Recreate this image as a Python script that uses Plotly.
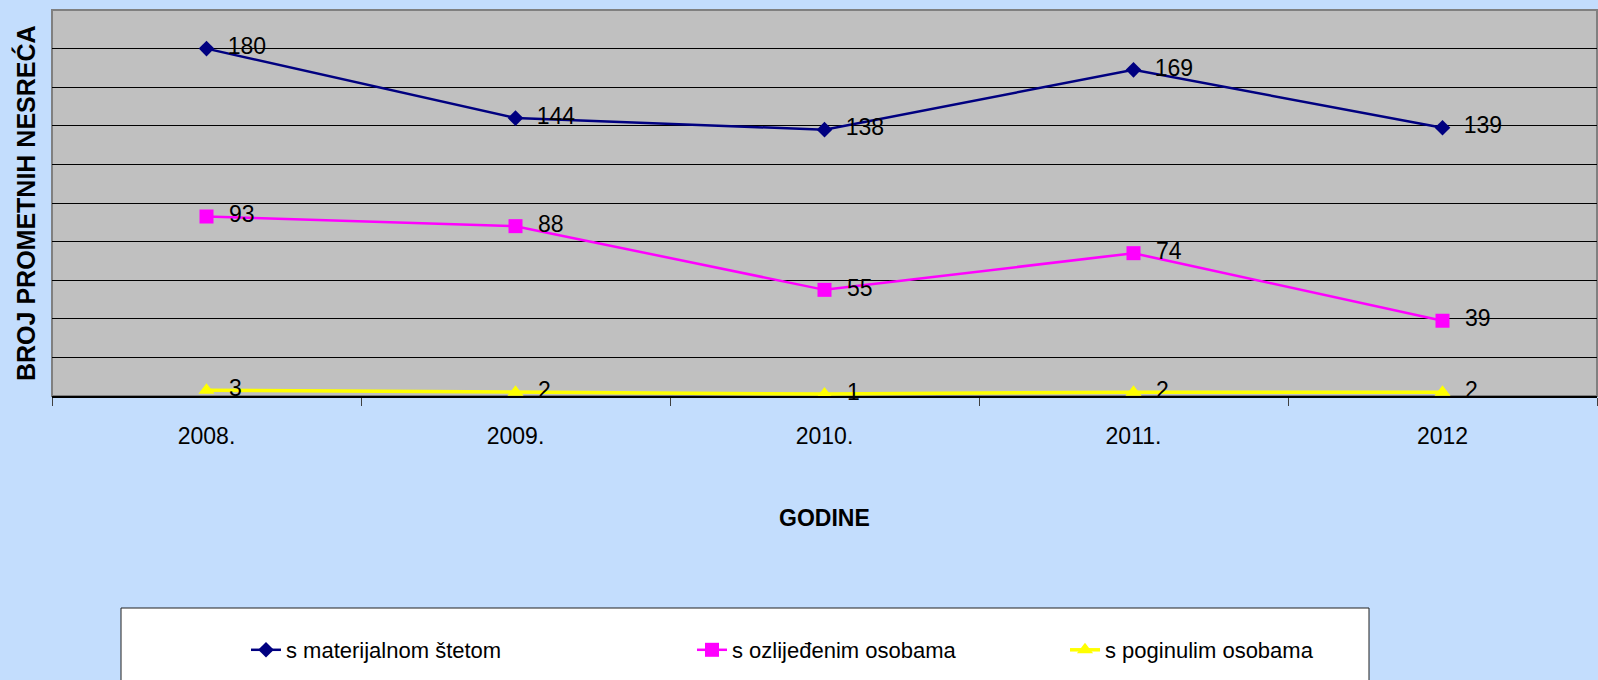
import plotly.graph_objects as go

years = ["2008.", "2009.", "2010.", "2011.", "2012"]
materijalna = [180, 144, 138, 169, 139]
ozlijedeni = [93, 88, 55, 74, 39]
poginuli = [3, 2, 1, 2, 2]
series_names = ["s materijalnom štetom", "s ozlijeđenim osobama", "s poginulim osobama"]

W, H = 1598, 680
L, R, T, B = 52, 1, 10, 284
pw = W - L - R
ph = H - T - B

def px_x(x):
    return (x - L) / pw

def px_y(y):
    return (H - B - y) / ph

FONT = "Liberation Sans, Arial, sans-serif"
lbl = "\u00a0\u00a0%{y}"

fig = go.Figure()
fig.add_trace(go.Scatter(
    x=years, y=materijalna, name=series_names[0], mode="lines+markers+text",
    line=dict(color="#000080", width=2.5),
    marker=dict(symbol="diamond", size=12, color="#000080"),
    texttemplate=lbl, textposition="middle right",
    textfont=dict(size=23, color="#000000", family=FONT),
    legend="legend", cliponaxis=False))
fig.add_trace(go.Scatter(
    x=years, y=ozlijedeni, name=series_names[1], mode="lines+markers+text",
    line=dict(color="#FF00FF", width=2.5),
    marker=dict(symbol="square", size=14, color="#FF00FF"),
    texttemplate=lbl, textposition="middle right",
    textfont=dict(size=23, color="#000000", family=FONT),
    legend="legend2", cliponaxis=False))
fig.add_trace(go.Scatter(
    x=years, y=poginuli, name=series_names[2], mode="lines+markers+text",
    line=dict(color="#FFFF00", width=3.5),
    marker=dict(symbol="triangle-up", size=14, color="#FFFF00"),
    texttemplate=lbl, textposition="middle right",
    textfont=dict(size=23, color="#000000", family=FONT),
    legend="legend3", cliponaxis=False))

leg_common = dict(orientation="h", yanchor="middle", xanchor="left",
                  bgcolor="rgba(0,0,0,0)", borderwidth=0,
                  font=dict(size=22, family=FONT, color="#000000"))
fig.update_layout(
    legend=dict(x=px_x(246), y=px_y(650), **leg_common),
    legend2=dict(x=px_x(692), y=px_y(650), **leg_common),
    legend3=dict(x=px_x(1065), y=px_y(650), **leg_common),
)

fig.update_layout(
    width=W, height=H,
    margin=dict(l=L, r=R, t=T, b=B),
    paper_bgcolor="#C3DDFD",
    plot_bgcolor="#C0C0C0",
    font=dict(family=FONT, size=23, color="#000000"),
    xaxis=dict(type="category", range=[-0.5, 4.5], tickson="boundaries",
               ticks="outside", ticklen=8, tickcolor="#404040", tickwidth=1,
               showgrid=False, showline=True, linecolor="#000000", linewidth=1.5,
               tickfont=dict(size=23, family=FONT), ticklabelstandoff=19),
    yaxis=dict(range=[0, 200], dtick=20, showticklabels=False,
               showgrid=True, gridcolor="#000000", gridwidth=1,
               zeroline=False, ticks=""),
    showlegend=True,
)

# plot area border
fig.add_shape(type="rect", xref="paper", yref="paper", x0=0, x1=1, y0=0, y1=1,
              line=dict(color="#808080", width=2), layer="below")
# legend box
fig.add_shape(type="rect", xref="paper", yref="paper",
              x0=px_x(121), x1=px_x(1369), y0=px_y(608), y1=px_y(720),
              line=dict(color="#202020", width=1), fillcolor="#FFFFFF", layer="below")

fig.add_annotation(text="<b>BROJ PROMETNIH NESREĆA</b>", xref="paper", yref="paper",
                   x=px_x(25), y=0.5, textangle=-90, showarrow=False,
                   xanchor="center", yanchor="middle",
                   font=dict(size=25, family=FONT, color="#000000"))
fig.add_annotation(text="<b>GODINE</b>", xref="paper", yref="paper",
                   x=0.5, y=px_y(518), showarrow=False,
                   xanchor="center", yanchor="middle",
                   font=dict(size=23, family=FONT, color="#000000"))

fig.write_html("out.html", config={"displayModeBar": False},
               post_script="document.body.style.margin='0';document.body.style.overflow='hidden';")
